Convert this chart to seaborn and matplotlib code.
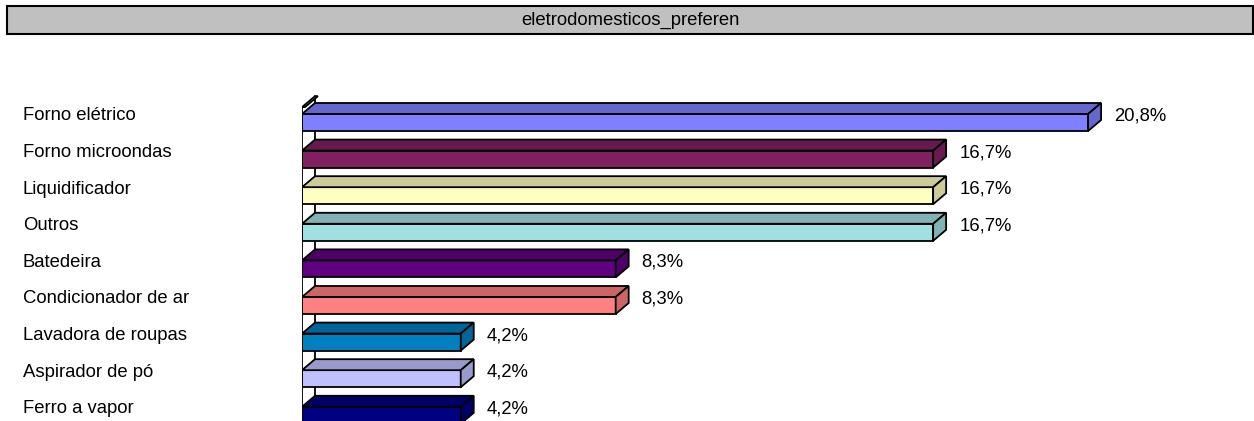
import matplotlib
matplotlib.use("Agg")
import matplotlib.pyplot as plt
import matplotlib.colors as mcolors
from matplotlib.patches import Polygon, Rectangle
from matplotlib import transforms
import seaborn as sns

# data
categories = ["Forno elétrico", "Forno microondas", "Liquidificador", "Outros",
              "Batedeira", "Condicionador de ar", "Lavadora de roupas",
              "Aspirador de pó", "Ferro a vapor"]
percent = [20.8, 16.7, 16.7, 16.7, 8.3, 8.3, 4.2, 4.2, 4.2]
bar_colors = ["#8080FF", "#802060", "#FFFFC0", "#A0E0E0", "#600080",
              "#FF8080", "#0080C0", "#C0C0FF", "#000080"]
panel_title = "eletrodomesticos_preferen"

W, H, DPI = 1254, 421, 100
sns.set_style("white")
plt.rcParams["font.family"] = ["Liberation Sans", "DejaVu Sans"]
plt.rcParams["text.color"] = "black"
FS = 13.3
LW = 1.3

fig = plt.figure(figsize=(W / DPI, H / DPI), dpi=DPI)

# layout in pixels
ax_left, ax_top = 302, 90
xmax = 25.19
ylo, yhi = 8.156, -0.888
ax = fig.add_axes([ax_left / W, 0, (W - ax_left) / W, (H - ax_top) / H])

bar_h = 0.465
sns.barplot(x=percent, y=categories, hue=categories, palette=bar_colors,
            legend=False, orient="h", width=bar_h, saturation=1,
            edgecolor="black", linewidth=LW, ax=ax, zorder=2)
ax.set_xlim(0, xmax)
ax.set_ylim(ylo, yhi)
ax.axis("off")

# depth of the 3d effect, pixels -> data units
px_x = (W - ax_left) / xmax
px_y = (H - ax_top) / (ylo - yhi)
dx = 13 / px_x
dy = 11 / px_y

# wall
wall_top = -0.42
ax.plot([dx, dx], [wall_top - dy, ylo], color="black", lw=LW, zorder=0.5)
ax.plot([0, 0], [wall_top, ylo], color="black", lw=LW, zorder=3)
th = 3 / px_x
ax.add_patch(Polygon([(0, wall_top), (dx, wall_top - dy), (dx + th, wall_top - dy),
                      (th, wall_top)], closed=True, facecolor="white",
                     edgecolor="black", lw=LW, zorder=3))

for i, (v, c) in enumerate(zip(percent, bar_colors)):
    dark = tuple(ch * 0.8 for ch in mcolors.to_rgb(c))
    top = i - bar_h / 2
    bot = i + bar_h / 2
    ax.add_patch(Polygon([(0, top), (v, top), (v + dx, top - dy), (dx, top - dy)],
                         closed=True, facecolor=dark, edgecolor="black", lw=LW, zorder=2.5))
    ax.add_patch(Polygon([(v, top), (v + dx, top - dy), (v + dx, bot - dy), (v, bot)],
                         closed=True, facecolor=dark, edgecolor="black", lw=LW, zorder=2.5))
    ax.text(v, i, f"{v:.1f}%".replace(".", ","), fontsize=FS, va="baseline", ha="left",
            color="black",
            transform=transforms.offset_copy(ax.transData, fig, x=26, y=2, units="dots"))
    tr = transforms.blended_transform_factory(fig.transFigure, ax.transData)
    ax.text(23 / W, i, categories[i], fontsize=FS, va="baseline", ha="left",
            color="black",
            transform=transforms.offset_copy(tr, fig, x=0, y=2, units="dots"))

# header band
fig.patches.append(Rectangle((7 / W, 1 - 34 / H), (1253 - 7) / W, 28 / H,
                             transform=fig.transFigure, facecolor="#C0C0C0",
                             edgecolor="black", lw=1.5))
fig.text(630 / W, 1 - 20 / H, panel_title, fontsize=FS, ha="center", va="center",
         color="black")

fig.savefig("out.png", dpi=DPI)
